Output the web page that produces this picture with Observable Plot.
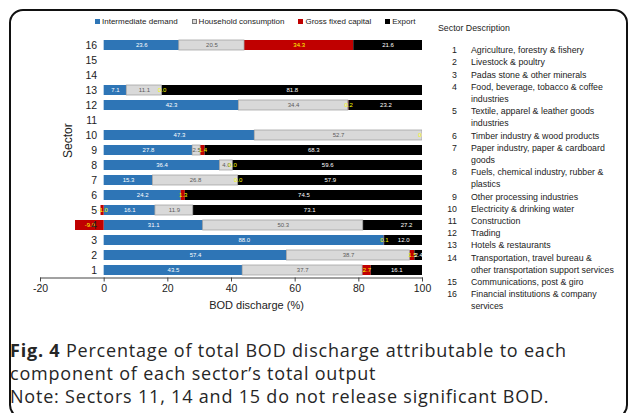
<!DOCTYPE html>
<html>
<head>
<meta charset="utf-8">
<script src="https://cdn.jsdelivr.net/npm/d3@7"></script>
<script src="https://cdn.jsdelivr.net/npm/@observablehq/plot@0.6"></script>
<style>
  html, body { margin: 0; padding: 0; background: #fff; }
  #fig { position: relative; width: 629px; height: 413px; overflow: hidden;
         font-family: "Liberation Sans", Arial, sans-serif; color: #222; }
  #frame { position: absolute; left: 9px; top: 9px; width: 619px; height: 410px;
           border: 2px solid #111; border-radius: 14px; box-sizing: border-box; }
  #chart { position: absolute; left: 0; top: 0; }
  #legend { position: absolute; left: 95px; top: 17px; display: flex; gap: 14px;
            font-size: 8px; white-space: nowrap; }
  #legend .item { display: flex; align-items: center; gap: 2px; }
  #legend .sw { width: 5px; height: 5px; display: inline-block; box-sizing: border-box; }
  #desc { position: absolute; left: 438px; top: 22px; font-size: 8.8px; line-height: 12.2px; }
  #desc .head { margin-bottom: 10px; }
  #desc .row { display: flex; }
  #desc .num { width: 19px; text-align: right; flex: none; }
  #desc .txt { margin-left: 14px; white-space: pre-line; }
  #cap { position: absolute; left: 10px; top: 339px; font-family: "Open Sans", sans-serif;
         font-size: 18px; letter-spacing: 0.8px; line-height: 23px; color: #262626; }
  #cap b { font-weight: 700; }
</style>
</head>
<body>
<div id="fig">
  <div id="frame"></div>
  <div id="chart"></div>
  <div id="legend"></div>
  <div id="desc"></div>
  <div id="cap">
    <div><b>Fig. 4</b> Percentage of total BOD discharge attributable to each</div>
    <div>component of each sector’s total output</div>
    <div>Note: Sectors 11, 14 and 15 do not release significant BOD.</div>
  </div>
</div>
<script>
// Sectors 1–16; null where a component has no BOD share
const sectors = ["1","2","3","4","5","6","7","8","9","10","11","12","13","14","15","16"];
const components = ["Intermediate demand", "Household consumption", "Gross fixed capital", "Export"];

const intermediateDemand   = [43.5, 57.4, 88.0, 31.1, 16.1, 24.2, 15.3, 36.4, 27.8, 47.3, null, 42.3,  7.1, null, null, 23.6];
const householdConsumption = [37.7, 38.7, null, 50.3, 11.9, null, 26.8,  4.0,  2.5, 52.7, null, 34.4, 11.1, null, null, 20.5];
const grossFixedCapital    = [ 2.7,  1.5,  0.1, -9.0, -1.0,  1.3,  0.0,  0.0,  1.4,  0.0, null,  0.2,  0.0, null, null, 34.3];
const exportShare          = [16.1,  2.4, 12.0, 27.2, 73.1, 74.5, 57.9, 59.6, 68.3, null, null, 23.2, 81.8, null, null, 21.6];

const xTicks = [-20, 0, 20, 40, 60, 80, 100];

// descriptions, with the line breaks used in the key
const sectorDescriptions = [
  "Agriculture, forestry & fishery",
  "Livestock & poultry",
  "Padas stone & other minerals",
  "Food, beverage, tobacco & coffee\nindustries",
  "Textile, apparel & leather goods\nindustries",
  "Timber industry & wood products",
  "Paper industry, paper & cardboard\ngoods",
  "Fuels, chemical industry, rubber &\nplastics",
  "Other processing industries",
  "Electricity & drinking water",
  "Construction",
  "Trading",
  "Hotels & restaurants",
  "Transportation, travel bureau &\nother transportation support services",
  "Communications, post & giro",
  "Financial institutions & company\nservices"
];

const fillOf  = {"Intermediate demand": "#2e75b6", "Household consumption": "#d9d9d9",
                 "Gross fixed capital": "#c00000", "Export": "#000000"};
const labelOf = {"Intermediate demand": "#ffffff", "Household consumption": "#5a5a5a",
                 "Gross fixed capital": "#ffff00", "Export": "#ffffff"};

const seriesValues = [intermediateDemand, householdConsumption, grossFixedCapital, exportShare];
const rows = [];
components.forEach((component, i) => {
  sectors.forEach((sector, j) => {
    const value = seriesValues[i][j];
    if (value != null) rows.push({sector, component, value});
  });
});

const stackOpts = extra => Plot.stackX({x: "value", y: "sector", z: "component", ...extra});

const chart = Plot.plot({
  width: 440,
  height: 320,
  marginLeft: 40,
  marginRight: 18,
  marginTop: 37.5,
  marginBottom: 42.5,
  style: {fontFamily: "Liberation Sans, Arial, sans-serif", fontSize: "10.5px", color: "#222", background: "transparent"},
  x: {domain: [-20, 100]},
  y: {domain: sectors.slice().reverse(), paddingInner: 0.36, paddingOuter: 0.18, axis: null},
  color: {type: "identity"},
  marks: [
    Plot.barX(rows, stackOpts({fill: d => fillOf[d.component], clip: true})),
    // thin outline around the household-consumption segments
    Plot.barX(rows, stackOpts({fill: "none", stroke: "#9a9a9a", strokeWidth: 0.7,
      strokeOpacity: d => d.component === "Household consumption" ? 1 : 0, clip: true})),
    Plot.text(rows, stackOpts({
      text: d => d.value.toFixed(1),
      fill: d => labelOf[d.component],
      fontSize: 6,
      fontWeight: d => d.component === "Gross fixed capital" ? "bold" : "normal",
      clip: true
    })),
    // sector numbers sit just left of zero, over any negative bar
    Plot.text(sectors, {x: 0, y: d => d, text: d => d, dx: -7, textAnchor: "end", fontSize: 10.5, fill: "#222"}),
    Plot.frame({anchor: "bottom", stroke: "#444"}),
    Plot.axisX({ticks: xTicks, tickFormat: d => String(d), tickSize: 4, tickPadding: 3,
      label: null, stroke: "#444", fill: "#222"}),
    Plot.text(["BOD discharge (%)"], {frameAnchor: "bottom", text: d => d, dy: 31, dx: 25, fontSize: 11, fill: "#222"}),
    Plot.text(["Sector"], {frameAnchor: "left", text: d => d, rotate: -90, dx: 28, fontSize: 12, fill: "#222"})
  ]
});
document.getElementById("chart").appendChild(chart);

// legend
const legend = document.getElementById("legend");
components.forEach(c => {
  const item = document.createElement("span");
  item.className = "item";
  const sw = document.createElement("span");
  sw.className = "sw";
  sw.style.background = fillOf[c];
  if (c === "Household consumption") sw.style.border = "0.8px solid #777";
  item.appendChild(sw);
  item.appendChild(document.createTextNode(c));
  legend.appendChild(item);
});

// sector description key
const desc = document.getElementById("desc");
const head = document.createElement("div");
head.className = "head";
head.textContent = "Sector Description";
desc.appendChild(head);
sectors.forEach((s, i) => {
  const row = document.createElement("div");
  row.className = "row";
  const num = document.createElement("span");
  num.className = "num";
  num.textContent = s;
  const txt = document.createElement("span");
  txt.className = "txt";
  txt.textContent = sectorDescriptions[i];
  row.appendChild(num);
  row.appendChild(txt);
  desc.appendChild(row);
});
</script>
</body>
</html>
